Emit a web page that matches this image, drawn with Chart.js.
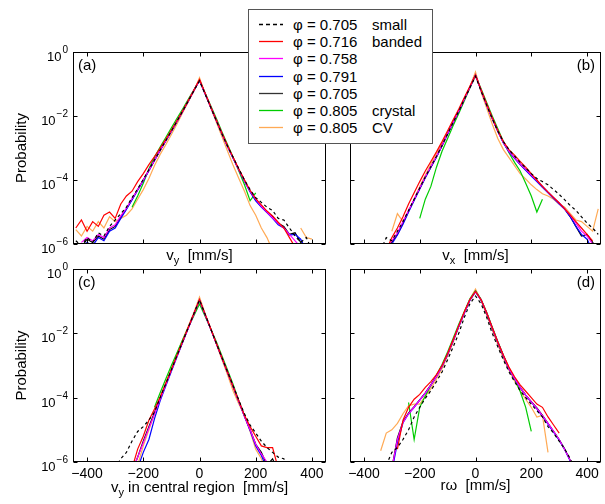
<!DOCTYPE html>
<html>
<head>
<meta charset="utf-8">
<script src="https://cdn.jsdelivr.net/npm/chart.js@4.4.0/dist/chart.umd.min.js"></script>
<style>
  body { margin: 0; background: #fff; }
  #wrap { position: relative; width: 605px; height: 504px; font-family: "Liberation Sans", Arial, sans-serif; }
  #wrap canvas { position: absolute; left: 0; top: 0; }
  #legend { position: absolute; left: 248px; top: 9px; width: 183px; height: 133px; border: 1px solid #555; background: #fff; font-size: 15px; color: #000; }
  #legend .row { position: absolute; left: 0; height: 17px; line-height: 17px; white-space: nowrap; }
  #legend svg { position: absolute; left: 10px; top: 0; }
  #legend .lab { position: absolute; left: 44px; }
  #legend .note { position: absolute; left: 123px; }
</style>
</head>
<body>
<div id="wrap">
  <canvas id="pa" width="605" height="504"></canvas>
  <canvas id="pb" width="605" height="504"></canvas>
  <canvas id="pc" width="605" height="504"></canvas>
  <canvas id="pd" width="605" height="504"></canvas>
  <div id="legend"></div>
</div>
<script>
// bin centres in mm/s
const vel = [-440, -420, -400, -380, -360, -340, -320, -300, -280, -260, -240, -220, -200, -180, -160, -140, -120, -100, -80, -60, -40, -20,
  0, 20, 40, 60, 80, 100, 120, 140, 160, 180, 200, 220, 240, 260, 280, 300, 320, 340, 360, 380, 400, 420, 440];
const velTicks = [-400, -200, 0, 200, 400];
const probTicks = [-6, -4, -2, 0];   // log10 of probability

const phiLabels = ['\u03c6 = 0.705', '\u03c6 = 0.716', '\u03c6 = 0.758', '\u03c6 = 0.791', '\u03c6 = 0.705', '\u03c6 = 0.805', '\u03c6 = 0.805'];
const notes = ['small', 'banded', '', '', '', 'crystal', 'CV'];

// all values below are log10(probability)
// (a) vy
const aSmall = [-5.9, -6.05, -5.8, -5.95, -5.65, -5.75, -5.45, -5.25, -5.05, -4.85, -4.55, -4.28, -3.98, -3.68, -3.37, -3.07, -2.77, -2.47, -2.16, -1.85, -1.53, -1.21,
  -0.9, -1.31, -1.73, -2.15, -2.56, -2.95, -3.3, -3.65, -4.0, -4.3, -4.55, -4.7, -4.85, -4.95, -5.2, -5.25, -5.5, -5.75, -5.95, -5.8, -6.2, null, null];
const aRed = [-5.5, -5.25, -5.6, -5.3, -5.45, -5.1, -5.0, -5.2, -4.75, -4.5, -4.35, -4.05, -3.8, -3.52, -3.27, -3.0, -2.73, -2.44, -2.14, -1.84, -1.52, -1.2,
  -0.86, -1.29, -1.71, -2.13, -2.54, -2.93, -3.3, -3.66, -4.0, -4.32, -4.58, -4.78, -4.97, -5.12, -5.32, -5.5, -5.8, -6.1, null, null, null, null, null];
const aMagenta = [null, -5.95, -5.8, -5.9, -5.7, -5.8, -5.5, -5.4, -5.12, -4.88, -4.58, -4.3, -4.0, -3.7, -3.38, -3.07, -2.77, -2.47, -2.16, -1.85, -1.53, -1.2,
  -0.88, -1.3, -1.72, -2.14, -2.55, -2.95, -3.32, -3.68, -4.02, -4.35, -4.6, -4.82, -5.0, -5.18, -5.35, -5.5, -5.7, -5.9, -6.1, null, null, null, null];
const aBlue = [null, -6.1, -5.95, -6.05, -5.8, -5.9, -5.6, -5.5, -5.2, -4.92, -4.62, -4.32, -4.02, -3.71, -3.39, -3.08, -2.78, -2.48, -2.17, -1.86, -1.54, -1.21,
  -0.89, -1.31, -1.73, -2.15, -2.56, -2.96, -3.33, -3.69, -4.04, -4.37, -4.65, -4.85, -5.02, -5.2, -5.4, -5.5, -5.72, -5.7, -5.85, -6.2, null, null, null];
const aBlack = [null, -6.1, -5.85, -5.95, -5.75, -5.85, -5.55, -5.45, -5.15, -4.9, -4.6, -4.3, -4.0, -3.7, -3.38, -3.07, -2.77, -2.47, -2.16, -1.85, -1.53, -1.2,
  -0.88, -1.3, -1.72, -2.14, -2.55, -2.95, -3.32, -3.68, -4.02, -4.35, -4.62, -4.82, -5.0, -5.15, -5.35, -5.45, -5.7, -5.65, -5.95, -6.2, null, null, null];
const aGreen = [null, null, null, null, null, null, null, null, null, null, -4.85, -4.5, -4.1, -3.65, -3.28, -2.97, -2.67, -2.37, -2.07, -1.78, -1.48, -1.18,
  -0.9, -1.28, -1.68, -2.08, -2.5, -2.9, -3.3, -3.72, -4.15, -4.65, -4.4, null, null, null, null, null, null, null, null, null, null, null, null];
const aOrange = [-5.55, -5.75, -5.45, -5.6, -5.3, -5.5, -5.15, -5.3, -5.2, -5.1, -4.9, -4.6, -4.3, -3.95, -3.55, -3.2, -2.9, -2.58, -2.25, -1.9, -1.56, -1.22,
  -0.8, -1.3, -1.75, -2.2, -2.65, -3.1, -3.55, -3.95, -4.35, -4.8, -5.1, -5.5, -5.8, -6.2, null, null, null, null, -5.5, -5.8, -5.85, null, null];

// (b) vx
const bSmall = [null, null, null, null, null, -6.2, -5.8, -5.9, -5.6, -5.3, -4.95, -4.6, -4.25, -3.9, -3.58, -3.26, -2.92, -2.56, -2.2, -1.85, -1.48, -1.12,
  -0.76, -1.22, -1.66, -2.08, -2.47, -2.8, -3.05, -3.25, -3.45, -3.62, -3.8, -3.95, -4.05, -4.15, -4.3, -4.45, -4.62, -4.8, -4.95, -5.15, -5.35, -5.5, -5.7];
const bRed = [null, null, null, null, null, null, -6.2, -5.8, -5.5, -5.15, -4.75, -4.4, -4.05, -3.72, -3.42, -3.12, -2.8, -2.46, -2.12, -1.78, -1.42, -1.07,
  -0.72, -1.18, -1.62, -2.05, -2.45, -2.8, -3.05, -3.22, -3.42, -3.6, -3.8, -4.0, -4.2, -4.38, -4.55, -4.72, -4.9, -5.1, -5.3, -5.5, -5.7, -5.9, null];
const bMagenta = [null, null, null, null, null, null, -6.1, -5.9, -5.65, -5.3, -4.95, -4.6, -4.25, -3.9, -3.58, -3.26, -2.92, -2.55, -2.2, -1.84, -1.47, -1.1,
  -0.72, -1.2, -1.65, -2.08, -2.48, -2.83, -3.1, -3.3, -3.5, -3.67, -3.85, -4.02, -4.2, -4.38, -4.55, -4.72, -4.9, -5.1, -5.35, -5.6, -5.75, -6.0, -6.2];
const bBlue = [null, null, null, null, null, null, -6.3, -6.0, -5.72, -5.38, -5.0, -4.64, -4.28, -3.93, -3.6, -3.28, -2.93, -2.56, -2.2, -1.85, -1.47, -1.1,
  -0.72, -1.2, -1.65, -2.08, -2.48, -2.84, -3.12, -3.32, -3.52, -3.7, -3.88, -4.05, -4.23, -4.4, -4.58, -4.75, -4.92, -5.15, -5.45, -5.7, -5.85, -6.2, null];
const bBlack = [null, null, null, null, null, null, -6.3, -5.95, -5.7, -5.35, -4.98, -4.62, -4.27, -3.92, -3.6, -3.28, -2.93, -2.56, -2.2, -1.85, -1.47, -1.1,
  -0.72, -1.2, -1.65, -2.08, -2.48, -2.83, -3.1, -3.3, -3.5, -3.67, -3.85, -4.02, -4.2, -4.38, -4.55, -4.72, -4.9, -5.15, -5.45, -5.75, -5.7, -5.95, -6.2];
const bGreen = [null, null, null, null, null, null, null, null, null, null, null, null, -5.2, -4.6, -4.2, -3.6, -3.1, -2.7, -2.3, -1.92, -1.52, -1.12,
  -0.74, -1.15, -1.58, -2.0, -2.4, -2.8, -3.15, -3.45, -3.72, -4.1, -4.5, -5.0, -4.6, null, null, null, null, null, null, null, null, null, null];
const bOrange = [null, null, null, null, null, null, null, -5.6, -5.05, -5.3, -4.95, -4.6, -4.2, -3.85, -3.5, -3.18, -2.85, -2.52, -2.18, -1.82, -1.45, -1.08,
  -0.62, -1.25, -1.75, -2.25, -2.7, -3.05, -3.3, -3.55, -3.8, -3.97, -4.15, -4.3, -4.43, -4.5, -4.6, -4.75, -4.85, -5.05, -5.25, -5.3, -5.45, -5.6, -4.9];

// (c) vy in central region
const cSmall = [null, null, null, null, null, null, null, -6.2, -5.9, -5.7, -5.35, -5.05, -4.9, -4.7, -4.45, -4.0, -3.57, -3.13, -2.69, -2.26, -1.82, -1.39,
  -0.96, -1.41, -1.86, -2.31, -2.76, -3.2, -3.64, -4.08, -4.5, -4.85, -5.1, -5.35, -5.55, -5.7, -5.85, -5.9, -6.2, null, null, null, null, null, null];
const cRed = [null, null, null, null, null, null, null, null, null, null, -6.2, -5.6, -5.2, -4.7, -4.35, -3.98, -3.55, -3.12, -2.68, -2.25, -1.82, -1.39,
  -0.95, -1.41, -1.86, -2.31, -2.76, -3.21, -3.66, -4.1, -4.55, -4.9, -5.2, -5.5, -5.55, -5.55, -6.2, null, null, null, null, null, null, null, null];
const cMagenta = [null, null, null, null, null, null, null, null, null, null, -6.3, -5.85, -5.4, -4.95, -4.5, -4.04, -3.6, -3.15, -2.71, -2.27, -1.84, -1.4,
  -0.96, -1.42, -1.87, -2.32, -2.77, -3.22, -3.67, -4.12, -4.58, -5.0, -5.45, -5.75, -6.0, -6.3, null, null, null, null, null, null, null, null, null];
const cBlue = [null, null, null, null, null, null, null, null, null, null, null, -6.2, -5.7, -5.3, -4.65, -4.1, -3.64, -3.18, -2.73, -2.28, -1.84, -1.4,
  -0.96, -1.42, -1.87, -2.32, -2.77, -3.22, -3.67, -4.12, -4.58, -5.02, -5.5, -5.8, -6.2, null, null, null, null, null, null, null, null, null, null];
const cBlack = [null, null, null, null, null, null, null, null, null, null, -6.3, -5.85, -5.35, -4.9, -4.46, -4.02, -3.58, -3.14, -2.7, -2.27, -1.83, -1.4,
  -0.97, -1.42, -1.87, -2.32, -2.77, -3.22, -3.67, -4.12, -4.58, -5.0, -5.45, -5.7, -6.1, -5.9, -6.3, null, null, null, null, null, null, null, null];
const cGreen = [null, null, null, null, null, null, null, null, null, null, null, null, null, null, -4.3, -3.85, -3.42, -3.0, -2.6, -2.2, -1.82, -1.45,
  -1.09, -1.47, -1.86, -2.26, -2.7, -3.15, -3.6, -4.1, -4.55, null, null, null, null, null, null, null, null, null, null, null, null, null, null];
const cOrange = [null, null, null, null, null, null, null, null, null, null, null, -6.1, -5.5, -5.0, -4.5, -4.0, -3.55, -3.1, -2.63, -2.2, -1.78, -1.35,
  -0.87, -1.38, -1.85, -2.33, -2.82, -3.3, -3.8, -4.2, -4.55, -5.05, -5.6, -5.9, -6.3, null, null, null, null, null, null, null, null, null, null];

// (d) r*omega
const dSmall = [null, null, null, null, null, null, -6.1, -5.7, -5.55, -5.3, -5.0, -4.6, -4.3, -4.02, -3.78, -3.5, -3.2, -2.82, -2.42, -2.0, -1.5, -1.08,
  -0.84, -1.08, -1.5, -2.0, -2.42, -2.82, -3.2, -3.5, -3.78, -4.0, -4.2, -4.4, -4.6, -4.9, -5.1, -5.35, -5.6, -5.9, -6.3, null, null, null, null];
const dRed = [null, null, null, null, null, null, null, null, -5.6, -4.7, -4.3, -4.05, -3.9, -3.68, -3.5, -3.28, -3.0, -2.63, -2.2, -1.76, -1.33, -0.95,
  -0.7, -0.96, -1.36, -1.82, -2.27, -2.68, -3.05, -3.35, -3.6, -3.8, -4.0, -4.2, -4.3, -4.6, -4.85, -5.1, null, null, null, null, null, null, null];
const dMagenta = [null, null, null, null, null, null, null, -6.2, -5.3, -4.77, -4.5, -4.29, -4.08, -3.86, -3.61, -3.34, -3.02, -2.65, -2.22, -1.78, -1.36, -0.96,
  -0.7, -0.96, -1.37, -1.83, -2.28, -2.7, -3.1, -3.4, -3.68, -3.92, -4.13, -4.33, -4.56, -4.8, -5.05, -5.3, -5.62, -5.95, -6.4, null, null, null, null];
const dBlue = [null, null, null, null, null, null, null, -6.3, -5.4, -4.78, -4.5, -4.3, -4.08, -3.86, -3.61, -3.34, -3.03, -2.66, -2.23, -1.79, -1.37, -0.97,
  -0.71, -0.97, -1.38, -1.84, -2.29, -2.71, -3.11, -3.41, -3.69, -3.93, -4.14, -4.35, -4.58, -4.82, -5.07, -5.32, -5.62, -5.98, -6.4, null, null, null, null];
const dBlack = [null, null, null, null, null, null, null, -6.2, -5.25, -4.75, -4.48, -4.28, -4.07, -3.85, -3.6, -3.33, -3.02, -2.65, -2.22, -1.78, -1.36, -0.96,
  -0.7, -0.96, -1.37, -1.83, -2.28, -2.7, -3.1, -3.4, -3.68, -3.92, -4.12, -4.32, -4.55, -4.8, -5.05, -5.3, -5.6, -5.95, -6.4, null, null, null, null];
const dGreen = [null, null, null, null, null, null, null, null, null, null, -4.15, -5.3, -4.3, -3.95, -3.62, -3.3, -2.97, -2.58, -2.15, -1.72, -1.32, -0.93,
  -0.68, -0.94, -1.34, -1.8, -2.25, -2.68, -3.08, -3.42, -3.8, -4.3, -5.05, null, null, null, null, null, null, null, null, null, null, null, null];
const dOrange = [null, null, null, null, null, -5.65, -5.1, -5.0, -4.8, -4.5, -4.25, -4.2, -4.2, -3.95, -3.72, -3.42, -3.1, -2.7, -2.28, -1.8, -1.35, -0.93,
  -0.62, -0.97, -1.42, -1.9, -2.35, -2.78, -3.15, -3.48, -3.78, -4.05, -4.3, -4.6, -4.55, -5.7, null, null, null, null, null, null, null, null, null];

const colors = ['#000000', '#ff0000', '#ff00ff', '#0000ff', '#000000', '#00cc00', '#ffaa55'];
const dashes = [[3, 3], [], [], [], [], [], []];
const FONT = '"Liberation Sans", Arial, sans-serif';

const panels = [
  { id: 'pa', series: [aSmall, aRed, aMagenta, aBlue, aBlack, aGreen, aOrange], box: [73, 52, 326, 244],
    letter: '(a)', letterRight: false, yLabels: true, xLabels: false, title: ['v', 'y', '  [mm/s]'], titleY: 260 },
  { id: 'pb', series: [bSmall, bRed, bMagenta, bBlue, bBlack, bGreen, bOrange], box: [350, 52, 601, 244],
    letter: '(b)', letterRight: true, yLabels: false, xLabels: false, title: ['v', 'x', '  [mm/s]'], titleY: 260 },
  { id: 'pc', series: [cSmall, cRed, cMagenta, cBlue, cBlack, cGreen, cOrange], box: [73, 269, 326, 462],
    letter: '(c)', letterRight: false, yLabels: true, xLabels: true, title: ['v', 'y', ' in central region  [mm/s]'], titleY: 492 },
  { id: 'pd', series: [dSmall, dRed, dMagenta, dBlue, dBlack, dGreen, dOrange], box: [350, 269, 601, 462],
    letter: '(d)', letterRight: true, yLabels: false, xLabels: true, title: ['r\u03c9', '', '  [mm/s]'], titleY: 490 },
];

function drawPow(ctx, exp, xRight, y) {
  const sup = exp === 0 ? '0' : '\u2212' + (-exp);
  ctx.font = '10px ' + FONT;
  const ws = ctx.measureText(sup).width;
  ctx.font = '13px ' + FONT;
  const wb = ctx.measureText('10').width;
  ctx.textAlign = 'left';
  ctx.textBaseline = 'alphabetic';
  ctx.fillText('10', xRight - ws - wb - 1, y + 9);
  ctx.font = '10px ' + FONT;
  ctx.fillText(sup, xRight - ws, y + 1);
}

function framePlugin(p) {
  return {
    id: 'frame',
    afterDraw(chart) {
      const { ctx, chartArea: a, scales } = chart;
      const x = scales.x, y = scales.y;
      const L = Math.round(a.left) + 0.5, R = Math.round(a.right) - 0.5;
      const T = Math.round(a.top) + 0.5, B = Math.round(a.bottom) - 0.5;
      ctx.save();
      ctx.strokeStyle = '#000';
      ctx.fillStyle = '#000';
      ctx.lineWidth = 1;
      ctx.strokeRect(L, T, R - L, B - T);
      ctx.beginPath();
      velTicks.forEach(v => {
        const px = Math.round(x.getPixelForValue(v)) + 0.5;
        ctx.moveTo(px, B); ctx.lineTo(px, B - 4);
        ctx.moveTo(px, T); ctx.lineTo(px, T + 4);
      });
      probTicks.forEach(e => {
        const py = Math.round(y.getPixelForValue(Math.pow(10, e))) + 0.5;
        ctx.moveTo(L, py); ctx.lineTo(L + 4, py);
        ctx.moveTo(R, py); ctx.lineTo(R - 4, py);
      });
      ctx.stroke();

      if (p.yLabels) {
        probTicks.forEach(e => drawPow(ctx, e, a.left - 5, y.getPixelForValue(Math.pow(10, e))));
        ctx.save();
        ctx.font = '15px ' + FONT;
        ctx.textAlign = 'center';
        ctx.textBaseline = 'middle';
        ctx.translate(22, (a.top + a.bottom) / 2);
        ctx.rotate(-Math.PI / 2);
        ctx.fillText('Probability', 0, 0);
        ctx.restore();
      }
      if (p.xLabels) {
        ctx.font = '14px ' + FONT;
        ctx.textAlign = 'center';
        ctx.textBaseline = 'alphabetic';
        velTicks.forEach(v => {
          const s = v < 0 ? '\u2212' + (-v) : String(v);
          ctx.fillText(s, x.getPixelForValue(v), a.bottom + 16);
        });
      }

      // axis title with optional subscript
      const [m, sub, rest] = p.title;
      ctx.textAlign = 'left';
      ctx.textBaseline = 'alphabetic';
      ctx.font = '15px ' + FONT;
      const wm = ctx.measureText(m).width, wr = ctx.measureText(rest).width;
      ctx.font = '11px ' + FONT;
      const wsub = sub ? ctx.measureText(sub).width : 0;
      let cx = x.getPixelForValue(0) - (wm + wsub + wr) / 2;
      ctx.font = '15px ' + FONT;
      ctx.fillText(m, cx, p.titleY);
      cx += wm;
      if (sub) {
        ctx.font = '11px ' + FONT;
        ctx.fillText(sub, cx, p.titleY + 4);
        cx += wsub;
      }
      ctx.font = '15px ' + FONT;
      ctx.fillText(rest, cx, p.titleY);

      // panel letter
      ctx.font = '15px ' + FONT;
      ctx.textAlign = p.letterRight ? 'right' : 'left';
      ctx.fillText(p.letter, p.letterRight ? a.right - 6 : a.left + 5, a.top + 18);
      ctx.restore();
    }
  };
}

panels.forEach(p => {
  const datasets = p.series.map((vals, k) => ({
    label: phiLabels[k] + ' ' + notes[k],
    data: vel.map((v, i) => ({ x: v, y: vals[i] == null ? null : Math.pow(10, vals[i]) })),
    borderColor: colors[k],
    borderDash: dashes[k],
    borderWidth: 1.2,
    pointRadius: 0,
    fill: false,
    spanGaps: false,
    clip: 0,
  }));
  const [l, t, r, b] = p.box;
  new Chart(document.getElementById(p.id), {
    type: 'line',
    data: { datasets },
    options: {
      responsive: false,
      animation: false,
      devicePixelRatio: 1,
      layout: { padding: { left: l, top: t, right: 605 - r, bottom: 504 - b } },
      scales: {
        x: { type: 'linear', min: -450, max: 450, display: false },
        y: { type: 'logarithmic', min: 1e-6, max: 1, display: false },
      },
      plugins: { legend: { display: false }, tooltip: { enabled: false } },
      elements: { line: { tension: 0 } },
    },
    plugins: [framePlugin(p)],
  });
});

// legend box shared by all panels
const legend = document.getElementById('legend');
phiLabels.forEach((lab, k) => {
  const row = document.createElement('div');
  row.className = 'row';
  row.style.top = (6 + k * 17.2) + 'px';
  row.style.width = '100%';
  const dash = dashes[k].length ? ' stroke-dasharray="4 3"' : '';
  const col = k === 4 ? '#333' : colors[k];
  row.innerHTML = '<svg width="26" height="17"><line x1="0" y1="8.5" x2="24" y2="8.5" stroke="' + col + '" stroke-width="1.3"' + dash + '/></svg>' +
    '<span class="lab">' + lab + '</span><span class="note">' + notes[k] + '</span>';
  legend.appendChild(row);
});
</script>
</body>
</html>
